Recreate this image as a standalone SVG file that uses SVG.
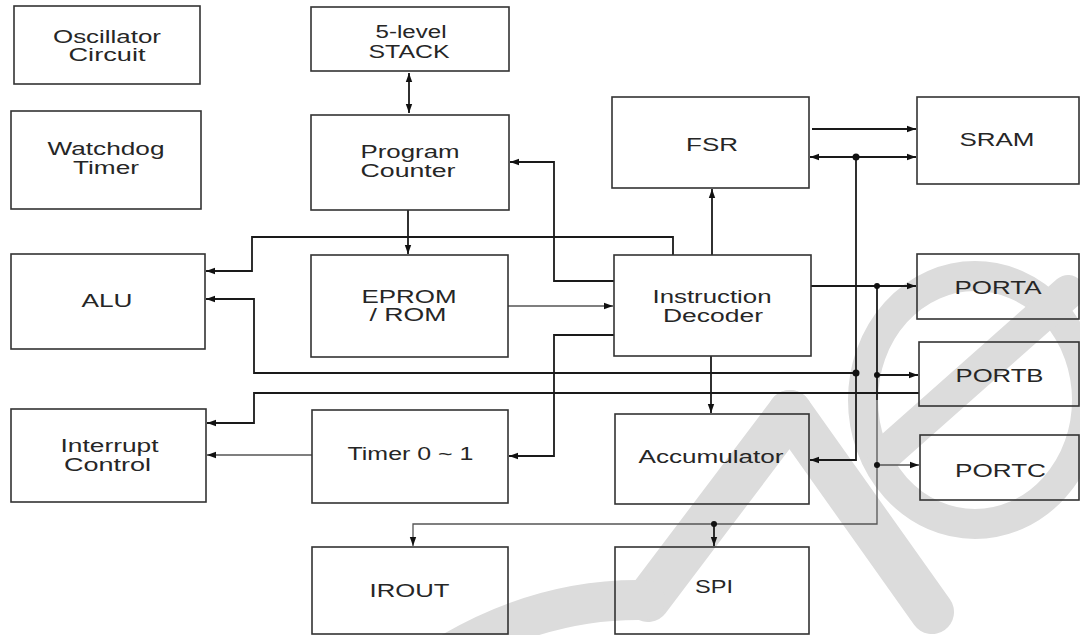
<svg xmlns="http://www.w3.org/2000/svg" width="1080" height="635" viewBox="0 0 1080 635">
<style>
.box{fill:none;stroke:#333;stroke-width:1.6}
.t{font-family:"Liberation Sans",Arial,sans-serif;font-size:17.5px;fill:#262626;text-anchor:middle}
.c{fill:none;stroke:#1a1a1a;stroke-width:1.8}
.g{fill:none;stroke:#555;stroke-width:1.3}
.wm{fill:none;stroke:#dcdcdc;stroke-linecap:round;stroke-linejoin:round}
</style>
<defs>
<marker id="ah" markerUnits="userSpaceOnUse" markerWidth="10" markerHeight="8" refX="9" refY="4" orient="auto-start-reverse">
<path d="M0,0.8 L9,4 L0,7.2 Z" fill="#111"/>
</marker>
</defs>
<rect width="1080" height="635" fill="#fff"/>
<g id="watermark">
<ellipse class="wm" cx="975" cy="400" rx="112" ry="124" stroke-width="30"/>
<line class="wm" x1="1068" y1="292" x2="884" y2="455" stroke-width="34"/>
<path class="wm" d="M790 412 L932 612" stroke-width="44"/>
<path class="wm" d="M790 412 L648 600" stroke-width="44"/>
<path class="wm" d="M452 652 Q545 598 645 600" stroke-width="40"/>
</g>
<g id="connectors">
<line class="c" x1="409" y1="73" x2="409" y2="113" marker-start="url(#ah)" marker-end="url(#ah)"/>
<line class="c" x1="408" y1="210" x2="408" y2="254" marker-end="url(#ah)"/>
<polyline class="c" points="614,281 554,281 554,162 510,162" marker-end="url(#ah)"/>
<polyline class="c" points="673,255 673,237 252,237 252,271 206,271" marker-end="url(#ah)"/>
<line class="c" x1="712" y1="255" x2="712" y2="189" marker-end="url(#ah)"/>
<line class="g" x1="508" y1="306" x2="613" y2="306" marker-end="url(#ah)"/>
<polyline class="c" points="614,335 554,335 554,456 509,456" marker-end="url(#ah)"/>
<line class="c" x1="711" y1="356" x2="711" y2="413" marker-end="url(#ah)"/>
<line class="c" x1="811" y1="286" x2="916" y2="286" marker-end="url(#ah)"/>
<line class="c" x1="812" y1="129" x2="916" y2="129" marker-end="url(#ah)"/>
<line class="c" x1="810" y1="157" x2="916" y2="157" marker-start="url(#ah)" marker-end="url(#ah)"/>
<polyline class="c" points="856,157 856,460 810,460" marker-end="url(#ah)"/>
<polyline class="c" points="856,373 254,373 254,299 206,299" marker-end="url(#ah)"/>
<line class="c" x1="877" y1="286" x2="877" y2="400"/>
<polyline class="g" points="877,400 877,524 413,524 413,546" marker-end="url(#ah)"/>
<line class="c" x1="877" y1="375" x2="918" y2="375" marker-end="url(#ah)"/>
<line class="g" x1="877" y1="465" x2="919" y2="465" marker-end="url(#ah)"/>
<line class="c" x1="714" y1="524" x2="714" y2="546" marker-end="url(#ah)"/>
<polyline class="c" points="919,393 254,393 254,423 207,423" marker-end="url(#ah)"/>
<line class="g" x1="312" y1="455" x2="207" y2="455" marker-end="url(#ah)"/>
<g fill="#111">
<circle cx="856" cy="157" r="3.5"/>
<circle cx="856" cy="373" r="3.5"/>
<circle cx="877" cy="286" r="3"/>
<circle cx="877" cy="375" r="3"/>
<circle cx="877" cy="465" r="3"/>
<circle cx="714" cy="524" r="3"/>
</g>
</g>
<g id="osc"><rect class="box" x="14" y="6" width="186" height="78"/><text class="t" x="107" y="43" textLength="108" lengthAdjust="spacingAndGlyphs">Oscillator</text><text class="t" x="107" y="61" textLength="77" lengthAdjust="spacingAndGlyphs">Circuit</text></g>
<g id="wdt"><rect class="box" x="11" y="111" width="190" height="98"/><text class="t" x="106" y="155" textLength="117" lengthAdjust="spacingAndGlyphs">Watchdog</text><text class="t" x="106" y="174" textLength="66" lengthAdjust="spacingAndGlyphs">Timer</text></g>
<g id="stack"><rect class="box" x="311" y="7" width="198" height="64"/><text class="t" x="411" y="37.5" textLength="71" lengthAdjust="spacingAndGlyphs">5-level</text><text class="t" x="409" y="57.5" textLength="81" lengthAdjust="spacingAndGlyphs">STACK</text></g>
<g id="pc"><rect class="box" x="311" y="115" width="198" height="95"/><text class="t" x="410" y="158" textLength="99" lengthAdjust="spacingAndGlyphs">Program</text><text class="t" x="408" y="177" textLength="95" lengthAdjust="spacingAndGlyphs">Counter</text></g>
<g id="fsr"><rect class="box" x="612" y="97" width="197" height="91"/><text class="t" x="712" y="151" textLength="52" lengthAdjust="spacingAndGlyphs">FSR</text></g>
<g id="sram"><rect class="box" x="917" y="97" width="162" height="87"/><text class="t" x="997" y="146" textLength="75" lengthAdjust="spacingAndGlyphs">SRAM</text></g>
<g id="alu"><rect class="box" x="11" y="254" width="194" height="95"/><text class="t" x="107" y="306.5" textLength="51" lengthAdjust="spacingAndGlyphs">ALU</text></g>
<g id="eprom"><rect class="box" x="311" y="255" width="197" height="102"/><text class="t" x="409" y="303" textLength="95" lengthAdjust="spacingAndGlyphs">EPROM</text><text class="t" x="408" y="321" textLength="77" lengthAdjust="spacingAndGlyphs">/ ROM</text></g>
<g id="id"><rect class="box" x="614" y="255" width="197" height="101"/><text class="t" x="712" y="303" textLength="119" lengthAdjust="spacingAndGlyphs">Instruction</text><text class="t" x="713" y="321.5" textLength="100" lengthAdjust="spacingAndGlyphs">Decoder</text></g>
<g id="porta"><rect class="box" x="917" y="254" width="162" height="65"/><text class="t" x="998" y="294" textLength="87" lengthAdjust="spacingAndGlyphs">PORTA</text></g>
<g id="portb"><rect class="box" x="919" y="342" width="160" height="64"/><text class="t" x="999.5" y="381.5" textLength="88" lengthAdjust="spacingAndGlyphs">PORTB</text></g>
<g id="portc"><rect class="box" x="920" y="435" width="159" height="65"/><text class="t" x="1000.5" y="476.5" textLength="91" lengthAdjust="spacingAndGlyphs">PORTC</text></g>
<g id="intr"><rect class="box" x="11" y="409" width="195" height="93"/><text class="t" x="109.5" y="452" textLength="98" lengthAdjust="spacingAndGlyphs">Interrupt</text><text class="t" x="107.5" y="470.5" textLength="87" lengthAdjust="spacingAndGlyphs">Control</text></g>
<g id="timer"><rect class="box" x="312" y="410" width="196" height="93"/><text class="t" x="410.5" y="460" textLength="126" lengthAdjust="spacingAndGlyphs">Timer 0 ~ 1</text></g>
<g id="acc"><rect class="box" x="615" y="414" width="194" height="90"/><text class="t" x="711" y="463" textLength="145" lengthAdjust="spacingAndGlyphs">Accumulator</text></g>
<g id="irout"><rect class="box" x="312" y="547" width="196" height="87"/><text class="t" x="409.5" y="596.5" textLength="80" lengthAdjust="spacingAndGlyphs">IROUT</text></g>
<g id="spi"><rect class="box" x="615" y="547" width="194" height="87"/><text class="t" x="714" y="593" textLength="38" lengthAdjust="spacingAndGlyphs">SPI</text></g>
</svg>
